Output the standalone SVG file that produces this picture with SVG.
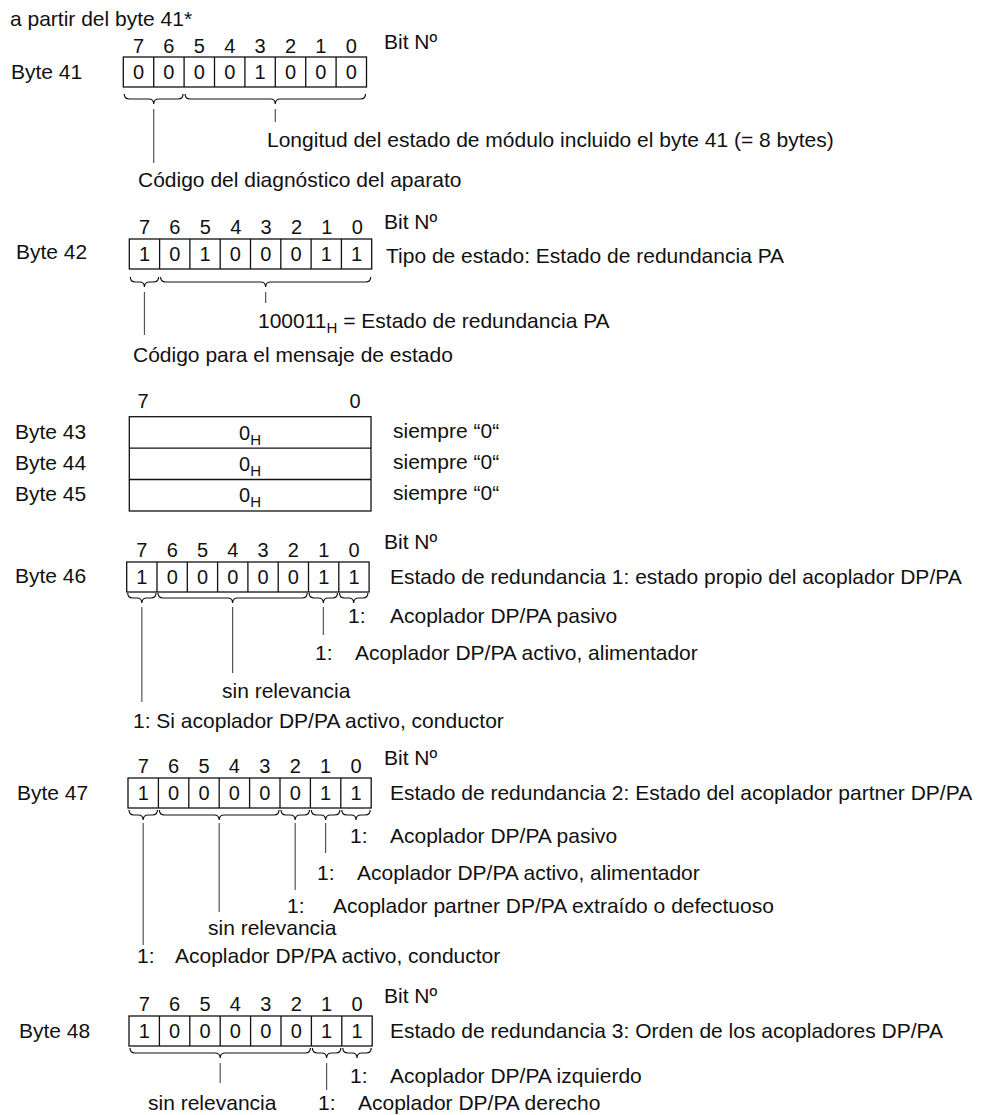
<svg xmlns="http://www.w3.org/2000/svg" width="987" height="1115" viewBox="0 0 987 1115">
<style>
text{font-family:"Liberation Sans",Arial,Helvetica,sans-serif;font-size:21px;fill:#111}
.c{text-anchor:middle;font-size:20px}
.box{fill:#fff;stroke:#111;stroke-width:1.3}
.div{fill:none;stroke:#111;stroke-width:1.3}
.br{fill:none;stroke:#111;stroke-width:1.2}
.ln{fill:none;stroke:#555;stroke-width:1.2}
.sub{font-size:15px}
</style>
<rect width="987" height="1115" fill="#fff"/>
<text x="10" y="26">a partir del byte 41*</text>

<g id="byte41">
<text x="11" y="79">Byte 41</text>
<g transform="translate(123.3,57)">
<text class="c" y="-4"><tspan x="15.2">7</tspan><tspan x="45.6">6</tspan><tspan x="76">5</tspan><tspan x="106.4">4</tspan><tspan x="136.8">3</tspan><tspan x="167.2">2</tspan><tspan x="197.6">1</tspan><tspan x="228">0</tspan></text>
<rect class="box" x="0" y="0" width="243.2" height="30"/>
<path class="div" d="M30.4 0V30M60.8 0V30M91.2 0V30M121.6 0V30M152 0V30M182.4 0V30M212.8 0V30"/>
<text class="c" y="22"><tspan x="15.2">0</tspan><tspan x="45.6">0</tspan><tspan x="76">0</tspan><tspan x="106.4">0</tspan><tspan x="136.8">1</tspan><tspan x="167.2">0</tspan><tspan x="197.6">0</tspan><tspan x="228">0</tspan></text>
</g>
<text x="384" y="49">Bit Nº</text>
<text x="267" y="147">Longitud del estado de módulo incluido el byte 41 (= 8 bytes)</text>
<text x="138" y="187">Código del diagnóstico del aparato</text>
</g>

<g id="byte42">
<text x="16" y="259">Byte 42</text>
<g transform="translate(129.3,239)">
<text class="c" y="-5"><tspan x="15.2">7</tspan><tspan x="45.6">6</tspan><tspan x="76">5</tspan><tspan x="106.4">4</tspan><tspan x="136.8">3</tspan><tspan x="167.2">2</tspan><tspan x="197.6">1</tspan><tspan x="228">0</tspan></text>
<rect class="box" x="0" y="0" width="242.4" height="30"/>
<path class="div" d="M30.3 0V30M60.6 0V30M90.9 0V30M121.2 0V30M151.5 0V30M181.8 0V30M212.1 0V30"/>
<text class="c" y="22"><tspan x="15.2">1</tspan><tspan x="45.5">0</tspan><tspan x="75.8">1</tspan><tspan x="106.1">0</tspan><tspan x="136.4">0</tspan><tspan x="166.7">0</tspan><tspan x="197">1</tspan><tspan x="227.3">1</tspan></text>
</g>
<text x="384" y="229">Bit Nº</text>
<text x="386" y="263">Tipo de estado: Estado de redundancia PA</text>
<text x="258" y="328">100011<tspan class="sub" dy="5">H</tspan><tspan dy="-5"> = Estado de redundancia PA</tspan></text>
<text x="133" y="362">Código para el mensaje de estado</text>
</g>

<g id="byte43-45">
<text class="c" x="143" y="408">7</text>
<text class="c" x="355" y="408">0</text>
<rect class="box" x="129.3" y="416.7" width="241.7" height="94.3"/>
<path class="div" d="M129.3 448.1H371M129.3 479.5H371"/>
<text x="15" y="439">Byte 43</text>
<text x="15" y="470">Byte 44</text>
<text x="15" y="501">Byte 45</text>
<text class="c" x="250" y="440">0<tspan class="sub" dy="5">H</tspan></text>
<text class="c" x="250" y="471">0<tspan class="sub" dy="5">H</tspan></text>
<text class="c" x="250" y="502">0<tspan class="sub" dy="5">H</tspan></text>
<text x="393" y="438">siempre “0“</text>
<text x="393" y="469">siempre “0“</text>
<text x="393" y="500">siempre “0“</text>
</g>

<g id="byte46">
<text x="15" y="583">Byte 46</text>
<g transform="translate(126.7,562)">
<text class="c" y="-5"><tspan x="15.2">7</tspan><tspan x="45.5">6</tspan><tspan x="75.8">5</tspan><tspan x="106.1">4</tspan><tspan x="136.4">3</tspan><tspan x="166.7">2</tspan><tspan x="197">1</tspan><tspan x="227.3">0</tspan></text>
<rect class="box" x="0" y="0" width="242.4" height="30"/>
<path class="div" d="M30.3 0V30M60.6 0V30M90.9 0V30M121.2 0V30M151.5 0V30M181.8 0V30M212.1 0V30"/>
<text class="c" y="22"><tspan x="15.2">1</tspan><tspan x="45.5">0</tspan><tspan x="75.8">0</tspan><tspan x="106.1">0</tspan><tspan x="136.4">0</tspan><tspan x="166.7">0</tspan><tspan x="197">1</tspan><tspan x="227.3">1</tspan></text>
</g>
<text x="384" y="549">Bit Nº</text>
<text x="390" y="584">Estado de redundancia 1: estado propio del acoplador DP/PA</text>
<text x="348" y="623">1:</text><text x="390" y="623">Acoplador DP/PA pasivo</text>
<text x="315" y="660">1:</text><text x="355" y="660">Acoplador DP/PA activo, alimentador</text>
<text x="222" y="698">sin relevancia</text>
<text x="133" y="728">1: Si acoplador DP/PA activo, conductor</text>
</g>

<g id="byte47">
<text x="17" y="800">Byte 47</text>
<g transform="translate(128,778)">
<text class="c" y="-5"><tspan x="15.2">7</tspan><tspan x="45.6">6</tspan><tspan x="76">5</tspan><tspan x="106.4">4</tspan><tspan x="136.8">3</tspan><tspan x="167.2">2</tspan><tspan x="197.6">1</tspan><tspan x="228">0</tspan></text>
<rect class="box" x="0" y="0" width="243.2" height="30"/>
<path class="div" d="M30.4 0V30M60.8 0V30M91.2 0V30M121.6 0V30M152 0V30M182.4 0V30M212.8 0V30"/>
<text class="c" y="22"><tspan x="15.2">1</tspan><tspan x="45.6">0</tspan><tspan x="76">0</tspan><tspan x="106.4">0</tspan><tspan x="136.8">0</tspan><tspan x="167.2">0</tspan><tspan x="197.6">1</tspan><tspan x="228">1</tspan></text>
</g>
<text x="384" y="765">Bit Nº</text>
<text x="390" y="800">Estado de redundancia 2: Estado del acoplador partner DP/PA</text>
<text x="350" y="843">1:</text><text x="390" y="843">Acoplador DP/PA pasivo</text>
<text x="317" y="880">1:</text><text x="357" y="880">Acoplador DP/PA activo, alimentador</text>
<text x="287" y="913">1:</text><text x="333" y="913">Acoplador partner DP/PA extraído o defectuoso</text>
<text x="208" y="935">sin relevancia</text>
<text x="137" y="963">1:</text><text x="175" y="963">Acoplador DP/PA activo, conductor</text>
</g>

<g id="byte48">
<text x="19" y="1038">Byte 48</text>
<g transform="translate(129,1016)">
<text class="c" y="-5"><tspan x="15.2">7</tspan><tspan x="45.6">6</tspan><tspan x="76">5</tspan><tspan x="106.4">4</tspan><tspan x="136.8">3</tspan><tspan x="167.2">2</tspan><tspan x="197.6">1</tspan><tspan x="228">0</tspan></text>
<rect class="box" x="0" y="0" width="243.2" height="30"/>
<path class="div" d="M30.4 0V30M60.8 0V30M91.2 0V30M121.6 0V30M152 0V30M182.4 0V30M212.8 0V30"/>
<text class="c" y="22"><tspan x="15.2">1</tspan><tspan x="45.6">0</tspan><tspan x="76">0</tspan><tspan x="106.4">0</tspan><tspan x="136.8">0</tspan><tspan x="167.2">0</tspan><tspan x="197.6">1</tspan><tspan x="228">1</tspan></text>
</g>
<text x="384" y="1003">Bit Nº</text>
<text x="390" y="1038">Estado de redundancia 3: Orden de los acopladores DP/PA</text>
<text x="350" y="1083">1:</text><text x="390" y="1083">Acoplador DP/PA izquierdo</text>
<text x="148" y="1110">sin relevancia</text>
<text x="318" y="1110">1:</text><text x="358" y="1110">Acoplador DP/PA derecho</text>
</g>

<g id="connectors">
<path class="br" d="M124.3 94Q124.3 99 129.3 99L148.7 99Q153.7 99 153.7 104Q153.7 99 158.7 99L178.1 99Q183.1 99 183.1 94"/>
<path class="br" d="M185.1 94Q185.1 99 190.1 99L270.3 99Q275.3 99 275.3 104Q275.3 99 280.3 99L360.5 99Q365.5 99 365.5 94"/>
<path class="ln" d="M153.7 109V163M275.3 109V122"/>
<path class="br" d="M130.3 277Q130.3 282 135.3 282L139.45 282Q144.45 282 144.45 287Q144.45 282 149.45 282L153.6 282Q158.6 282 158.6 277"/>
<path class="br" d="M160.6 277Q160.6 282 165.6 282L260.65 282Q265.65 282 265.65 287Q265.65 282 270.65 282L365.7 282Q370.7 282 370.7 277"/>
<path class="ln" d="M144.45 292V335M265.65 292V303"/>
<path class="br" d="M127.7 593Q127.7 598 132.7 598L136.85 598Q141.85 598 141.85 603Q141.85 598 146.85 598L151 598Q156 598 156 593"/>
<path class="br" d="M158 593Q158 598 163 598L227.6 598Q232.6 598 232.6 603Q232.6 598 237.6 598L302.2 598Q307.2 598 307.2 593"/>
<path class="br" d="M309.2 593Q309.2 598 314.2 598L318.35 598Q323.35 598 323.35 603Q323.35 598 328.35 598L332.5 598Q337.5 598 337.5 593"/>
<path class="br" d="M339.5 593Q339.5 598 344.5 598L348.7 598Q353.7 598 353.7 603Q353.7 598 358.7 598L362.9 598Q367.9 598 367.9 593"/>
<path class="ln" d="M141.85 607V702M232.6 607V673M323.35 607V635"/>
<path class="br" d="M129 810Q129 815 134 815L138.2 815Q143.2 815 143.2 820Q143.2 815 148.2 815L152.4 815Q157.4 815 157.4 810"/>
<path class="br" d="M159.4 810Q159.4 815 164.4 815L214.2 815Q219.2 815 219.2 820Q219.2 815 224.2 815L274 815Q279 815 279 810"/>
<path class="br" d="M281 810Q281 815 286 815L290.2 815Q295.2 815 295.2 820Q295.2 815 300.2 815L304.4 815Q309.4 815 309.4 810"/>
<path class="br" d="M311.4 810Q311.4 815 316.4 815L320.6 815Q325.6 815 325.6 820Q325.6 815 330.6 815L334.8 815Q339.8 815 339.8 810"/>
<path class="br" d="M341.8 810Q341.8 815 346.8 815L351 815Q356 815 356 820Q356 815 361 815L365.2 815Q370.2 815 370.2 810"/>
<path class="ln" d="M143.2 823V945M219.2 823V912M295.2 823V890M325.6 823V853"/>
<path class="br" d="M130 1048Q130 1053 135 1053L215.2 1053Q220.2 1053 220.2 1058Q220.2 1053 225.2 1053L305.4 1053Q310.4 1053 310.4 1048"/>
<path class="br" d="M312.4 1048Q312.4 1053 317.4 1053L321.6 1053Q326.6 1053 326.6 1058Q326.6 1053 331.6 1053L335.8 1053Q340.8 1053 340.8 1048"/>
<path class="br" d="M342.8 1048Q342.8 1053 347.8 1053L352 1053Q357 1053 357 1058Q357 1053 362 1053L366.2 1053Q371.2 1053 371.2 1048"/>
<path class="ln" d="M220.2 1063V1083M326.6 1063V1090"/>
</g>
</svg>
